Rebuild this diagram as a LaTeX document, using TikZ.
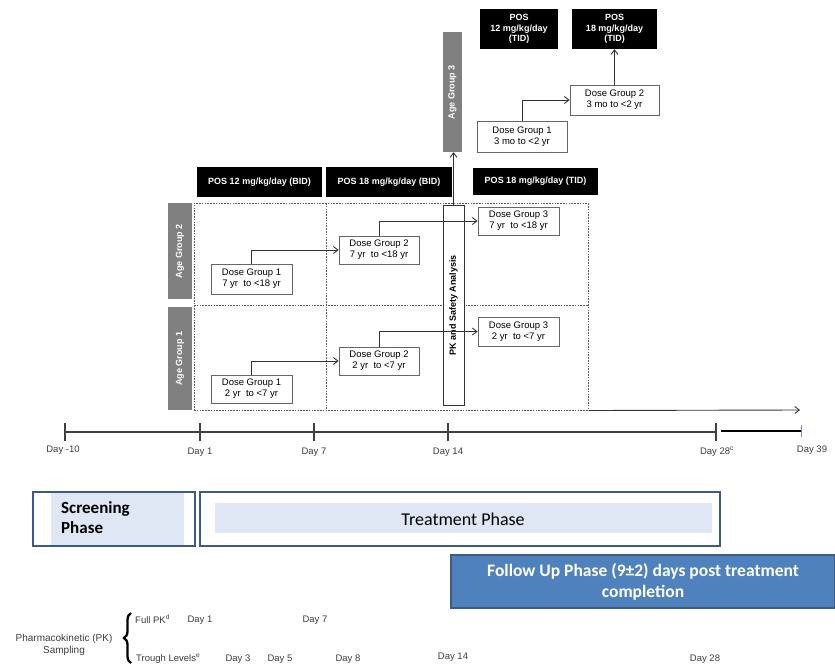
\documentclass[tikz,border=0pt]{standalone}
\usepackage{fontspec}
\setmainfont{Liberation Sans}
\newfontfamily\calfont{Carlito}
\usetikzlibrary{arrows.meta,decorations.pathreplacing}
\definecolor{agegray}{RGB}{128,128,128}
\definecolor{frameblue}{RGB}{58,90,140}
\definecolor{dotblue}{RGB}{222,231,243}
\definecolor{fufill}{RGB}{79,129,189}
\definecolor{fuborder}{RGB}{56,93,138}
\definecolor{txtgray}{RGB}{60,60,60}
\begin{document}
\begin{tikzpicture}[x=1pt,y=-1pt,
  blk/.style={fill=black, text=white, font=\fontsize{9}{10.5}\selectfont\bfseries, inner sep=1pt, align=center},
  dgbox/.style={draw=gray!80!black, fill=white, line width=0.8pt, font=\fontsize{9.5}{11}\selectfont, align=center, inner sep=1pt},
  agebar/.style={fill=agegray, text=white, font=\fontsize{9}{10}\selectfont\bfseries, rotate=90, inner sep=0pt},
  pkbox/.style={draw=black!80, fill=white, line width=0.8pt, font=\fontsize{9}{10}\selectfont\bfseries, rotate=90, inner sep=0pt},
  conn/.style={-{Straight Barb[length=4.5pt,width=7pt]}, draw=black!80, line width=0.9pt},
  plain/.style={draw=black!80, line width=0.9pt},
  dotline/.style={draw=black!65, line width=1pt, dash pattern=on 1.6pt off 1.2pt},
  daylbl/.style={text=txtgray, font=\fontsize{9.5}{11}\selectfont, inner sep=0pt},
  phaseframe/.style={draw=frameblue, line width=2pt, inner sep=0pt},
  phasetxt/.style={font=\calfont\fontsize{18}{20}\selectfont, inner sep=0pt}
]
\useasboundingbox (0,0) rectangle (835,667);

% top (age group 3)
\node[blk, minimum width=78pt, minimum height=40pt] (pos12t) at (519,29) {POS\\12 mg/kg/day\\(TID)};
\node[blk, minimum width=85pt, minimum height=40pt] (pos18t) at (614.5,29) {POS\\18 mg/kg/day\\(TID)};
\node[dgbox, minimum width=89pt, minimum height=30pt] (dg2c) at (614.5,100) {Dose Group 2\\3 mo to <2 yr};
\node[dgbox, minimum width=90pt, minimum height=31pt] (dg1c) at (522,136.5) {Dose Group 1\\3 mo to <2 yr};
\node[agebar, minimum width=120pt, minimum height=19pt] (age3) at (452.5,92) {Age Group 3};

% dose headers
\node[blk, minimum width=125pt, minimum height=30pt] (pos12b) at (259.5,182) {POS 12 mg/kg/day (BID)};
\node[blk, minimum width=126pt, minimum height=30pt] (pos18b) at (389,182) {POS 18 mg/kg/day (BID)};
\node[blk, minimum width=125pt, minimum height=27pt] (pos18tid) at (535.5,181.5) {POS 18 mg/kg/day (TID)};

% dotted frame
\node[dotline, minimum width=394pt, minimum height=207pt, inner sep=0pt] (frame) at (391,306.5) {};
\draw[dotline] (194,305) -- (588,305);
\draw[dotline] (326,203) -- (326,410);

% age bars
\node[agebar, minimum width=96pt, minimum height=24pt] (age2) at (180,251) {Age Group 2};
\node[agebar, minimum width=103pt, minimum height=24pt] (age1) at (180,358.5) {Age Group 1};

% dose groups
\node[dgbox, minimum width=81pt, minimum height=30pt] (dg1a) at (251.5,279) {Dose Group 1\\7 yr~ to <18 yr};
\node[dgbox, minimum width=80pt, minimum height=28pt] (dg2a) at (379,250) {Dose Group 2\\7 yr~ to <18 yr};
\node[dgbox, minimum width=81pt, minimum height=28pt] (dg1b) at (251.5,389) {Dose Group 1\\2 yr~ to <7 yr};
\node[dgbox, minimum width=80pt, minimum height=28pt] (dg2b) at (379,361) {Dose Group 2\\2 yr~ to <7 yr};
\node[pkbox, minimum width=200pt, minimum height=21pt] (pk) at (453.5,305) {PK and Safety Analysis};
\node[dgbox, minimum width=81pt, minimum height=28pt] (dg3a) at (518.5,221) {Dose Group 3\\7 yr~ to <18 yr};
\node[dgbox, minimum width=81pt, minimum height=29pt] (dg3b) at (518.5,331.5) {Dose Group 3\\2 yr~ to <7 yr};

% connectors
\draw[conn] (dg1a.north) |- (dg2a.west);
\draw[plain] (dg2a.north) |- (pk.south |- dg3a);
\draw[conn] (pk.north |- dg3a) -- (dg3a.west);
\draw[conn] (dg1b.north) |- (dg2b.west);
\draw[plain] (dg2b.north) |- (pk.south |- dg3b);
\draw[conn] (pk.north |- dg3b) -- (dg3b.west);
\draw[conn] (pk.east) -- (pk.east |- age3.west);
\draw[conn] (dg1c.north) |- (dg2c.west);
\draw[conn] (dg2c.north) -- (pos18t.south);

% long arrow
\coordinate (aend) at (800,410);
\draw[conn] (frame.south east) -- (aend);

% timeline
\coordinate (t0) at (65,432);
\coordinate (t1) at (200,432);
\coordinate (t7) at (314,432);
\coordinate (t14) at (448,432);
\coordinate (t28) at (716,432);
\coordinate (t28b) at (721,431);
\coordinate (t39) at (801,431);
\draw[black!75, line width=1.2pt] (t0) -- (t28);
\foreach \t in {t0,t1,t7,t14,t28}
  \draw[black!75, line width=1.2pt] ([yshift=-9pt]\t) -- ([yshift=9pt]\t);
\draw[black, line width=2.2pt] (t28b) -- (t39);
\draw[blue!40!gray!70, line width=1pt] ([yshift=-6pt]t39) -- ([yshift=6pt]t39);
\node[daylbl] (l0) at (63,450) {Day -10};
\node[daylbl] (l1) at (200,452) {Day 1};
\node[daylbl] (l7) at (314,452) {Day 7};
\node[daylbl] (l14) at (448,452) {Day 14};
\node[daylbl] (l28) at (717,452) {Day 28\textsuperscript{c}};
\node[daylbl] (l39) at (812,450) {Day 39};

% phases
\fill[dotblue] (51,493) rectangle (184,545);
\node[phaseframe, minimum width=162pt, minimum height=54pt] (scr) at (114,519) {};
\node[phasetxt, anchor=west, align=left, font=\calfont\bfseries\fontsize{17}{20}\selectfont] (scrtxt) at (61,518) {Screening\\Phase};
\fill[dotblue] (215,503) rectangle (712,533);
\node[phaseframe, minimum width=520pt, minimum height=54pt] (trt) at (460,519) {};
\node[phasetxt] (trttxt) at (463,519) {Treatment Phase};
\node[draw=fuborder, fill=fufill, line width=1.5pt, minimum width=384pt, minimum height=53pt, text=white, font=\calfont\bfseries\fontsize{17.5}{21}\selectfont, align=center, inner sep=0pt] (fu) at (643,581.5) {Follow Up Phase (9±2) days post treatment\\completion};

% PK sampling
\node[daylbl, align=center, font=\fontsize{10}{12}\selectfont] (pks) at (64,645) {Pharmacokinetic (PK)\\Sampling};
\coordinate (bb) at (131,663);
\coordinate (bt) at (131,613);
\draw[black, line width=2.3pt, decorate, decoration={brace, amplitude=7pt}] (bb) -- (bt);
\node[daylbl, anchor=west] (fpk) at (135,619) {Full PK\textsuperscript{d}};
\node[daylbl] (f1) at (200,620) {Day 1};
\node[daylbl] (f7) at (315,620) {Day 7};
\node[daylbl, anchor=west] (tl) at (136,659) {Trough Levels\textsuperscript{e}};
\node[daylbl] (d3) at (238,659) {Day 3};
\node[daylbl] (d5) at (280,659) {Day 5};
\node[daylbl] (d8) at (348,659) {Day 8};
\node[daylbl] (d14) at (453,657) {Day 14};
\node[daylbl] (d28) at (705,659) {Day 28};
\end{tikzpicture}
\end{document}
